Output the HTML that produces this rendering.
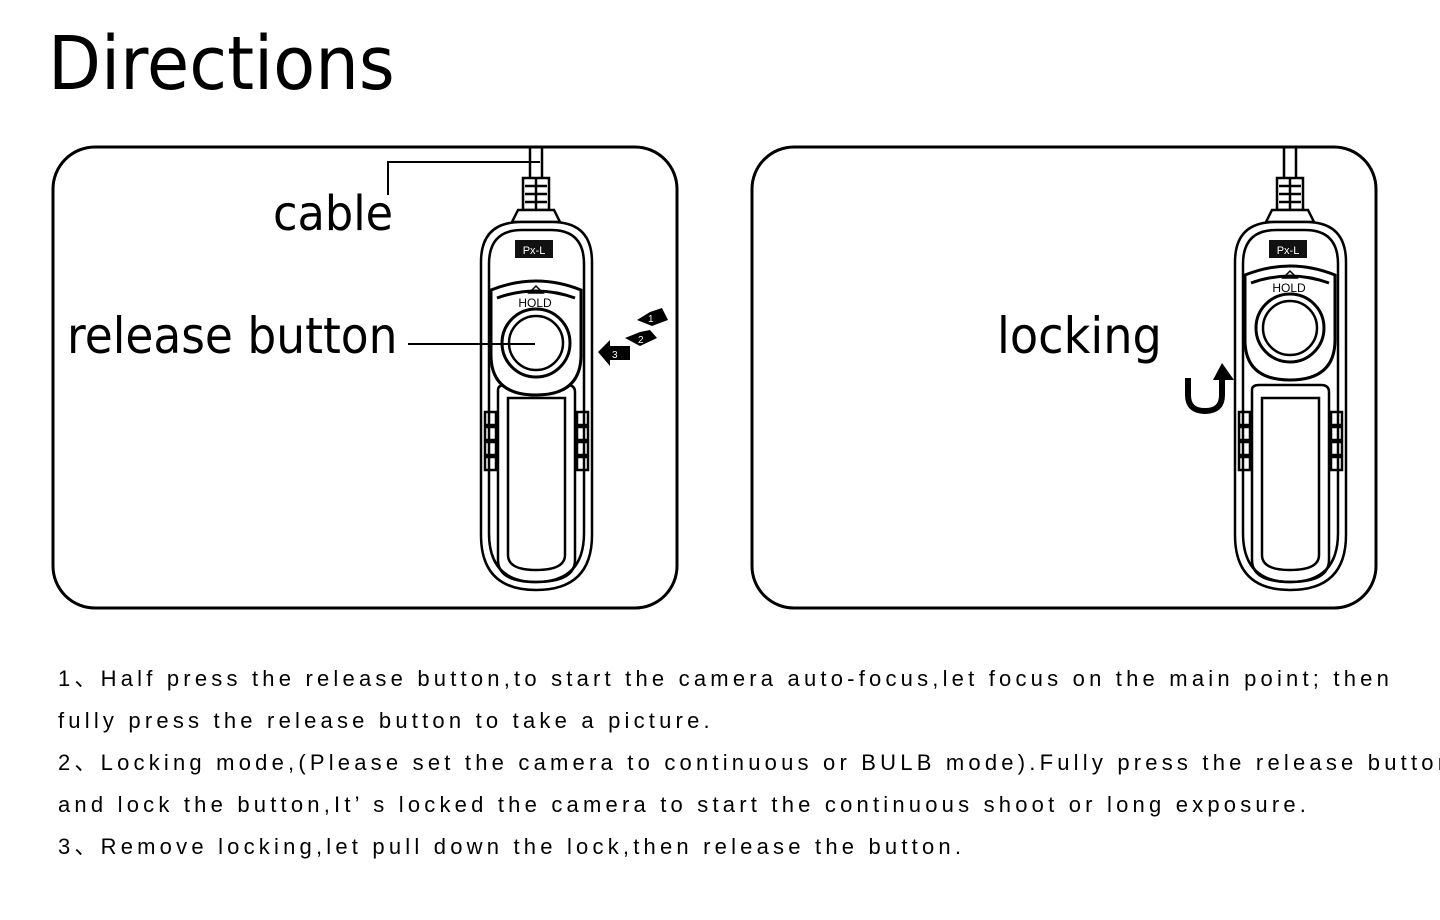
<!DOCTYPE html>
<html><head><style>
body{margin:0;background:#fff;width:1440px;height:920px;overflow:hidden;position:relative;font-family:"Liberation Sans","Noto Sans CJK SC",sans-serif;}
.t{position:absolute;color:#000;white-space:nowrap;font-family:"DejaVu Sans","Liberation Sans",sans-serif;transform-origin:0 0;line-height:1.2;}
.p{position:absolute;left:58px;font-size:22px;line-height:30px;height:30px;letter-spacing:4.2px;color:#000;white-space:nowrap;font-family:"Liberation Sans","Noto Sans CJK SC",sans-serif;}
</style></head><body>
<svg width="1440" height="920" style="position:absolute;left:0;top:0">
<defs>
<g id="rem" fill="none" stroke="#000" stroke-width="2.5">
<path d="M530 146 V178 M542 146 V178" />
<rect x="523" y="178" width="26" height="32" fill="#fff"/>
<path d="M536 178 V210 M525 186 H547 M525 194 H547 M525 202 H547"/>
<path d="M518 210 L512 222 H560 L554 210 Z" fill="#fff"/>
<path d="M481 262 Q481 222 521 222 H552 Q592 222 592 262 V535 Q592 590 536 590 Q481 590 481 535 Z" fill="#fff"/>
<path d="M489 264 Q489 230 522 230 H551 Q584 230 584 264 V533 Q584 582 536 582 Q489 582 489 533 Z"/>
<path d="M498 390 Q498 385 505 385 H567 Q575 385 575 392 V560 Q575 582 536 582 Q498 582 498 560 Z"/>
<path d="M508 398 H565 V555 Q565 570 536 570 Q508 570 508 555 Z"/>
<rect x="485" y="412" width="11" height="13"/><rect x="485" y="427" width="11" height="13"/><rect x="485" y="442" width="11" height="13"/><rect x="485" y="457" width="11" height="13"/>
<rect x="577" y="412" width="11" height="13"/><rect x="577" y="427" width="11" height="13"/><rect x="577" y="442" width="11" height="13"/><rect x="577" y="457" width="11" height="13"/>
</g>
<g id="win" fill="none" stroke="#000">
<path d="M491 290 Q536 272 581 290 V355 Q581 395 536 395 Q491 395 491 355 Z" stroke-width="3" fill="#fff"/>
<path d="M497 298 Q536 284 575 298" stroke-width="3"/>
<path d="M529 293 L536 286 L543 293 Z" stroke-width="1.5"/>
<circle cx="536" cy="343" r="34" stroke-width="3"/>
<circle cx="536" cy="343" r="27" stroke-width="2.5"/>
</g>
</defs>
<rect x="53" y="147" width="624" height="461" rx="42" fill="none" stroke="#000" stroke-width="3"/>
<rect x="752" y="147" width="624" height="461" rx="42" fill="none" stroke="#000" stroke-width="3"/>
<use href="#rem"/>
<use href="#win"/>
<rect x="515" y="240" width="38" height="18" fill="#111"/>
<text x="534" y="254" font-size="11" fill="#fff" text-anchor="middle" font-family="Liberation Sans">Px-L</text>
<text x="535" y="307" font-size="12" text-anchor="middle" font-family="Liberation Sans">HOLD</text>
<g transform="translate(754,0)"><use href="#rem"/></g>
<g transform="translate(754,-15)"><use href="#win"/></g>
<rect x="1269" y="240" width="38" height="18" fill="#111"/>
<text x="1288" y="254" font-size="11" fill="#fff" text-anchor="middle" font-family="Liberation Sans">Px-L</text>
<text x="1289" y="292" font-size="12" text-anchor="middle" font-family="Liberation Sans">HOLD</text>
<path d="M388 195 V162 H540" fill="none" stroke="#000" stroke-width="2"/>
<path d="M408 344 H535" fill="none" stroke="#000" stroke-width="2"/>
<path d="M598 352 L610 340 V346 H630 V360 H610 V366 Z" fill="#000"/>
<text x="612" y="358" font-size="10" fill="#fff" font-family="Liberation Sans">3</text>
<path d="M625 338 L640 346 L657 338 L650 330 L640 332 Z" fill="#000"/>
<text x="638" y="343" font-size="10" fill="#fff" font-family="Liberation Sans">2</text>
<path d="M637 320 L652 326 L668 320 L662 308 L650 312 Z" fill="#000"/>
<text x="648" y="322" font-size="10" fill="#fff" font-family="Liberation Sans">1</text>
<path d="M1188 378 V395 Q1188 411 1205 411 Q1222 411 1222 395 V378" fill="none" stroke="#000" stroke-width="6"/>
<path d="M1213 380 L1222 363 L1234 380 Z" fill="#000"/>
</svg>
<div class="t" style="left:48px;top:20px;font-size:74px;transform:scaleX(0.93)">Directions</div>
<div class="t" style="left:273px;top:186px;font-size:48px;transform:scaleX(0.93)">cable</div>
<div class="t" style="left:67px;top:306px;font-size:50px;transform:scaleX(0.91)">release button</div>
<div class="t" style="left:997px;top:306px;font-size:50px;transform:scaleX(0.925)">locking</div>
<div class="p" style="top:664px">1、Half press the release button,to start the camera auto-focus,let focus on the main point; then</div>
<div class="p" style="top:706px">fully press the release button to take a picture.</div>
<div class="p" style="top:748px">2、Locking mode,(Please set the camera to continuous or BULB mode).Fully press the release button</div>
<div class="p" style="top:790px">and lock the button,It’ s locked the camera to start the continuous shoot or long exposure.</div>
<div class="p" style="top:832px">3、Remove locking,let pull down the lock,then release the button.</div>
</body></html>
